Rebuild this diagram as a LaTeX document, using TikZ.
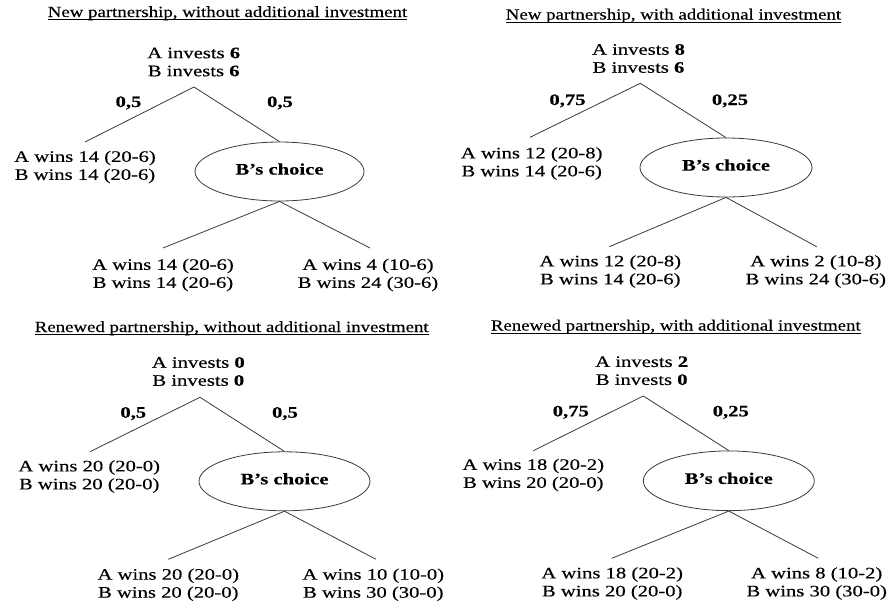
\documentclass[tikz,border=0pt]{standalone}
\usepackage{fontspec}
\setmainfont[FakeStretch=1.29, FakeBold=0.35]{Liberation Serif}
\newfontfamily\titlefont[FakeStretch=1.215, FakeBold=0.25]{Liberation Serif}
\usetikzlibrary{shapes.geometric}
\definecolor{linegray}{HTML}{3A3A3A}
\tikzset{
  ttl/.style={font=\titlefont\fontsize{15.5}{18}\selectfont, inner sep=0, anchor=base},
  uline/.style={draw=black, line width=0.7pt},
  txt/.style={font=\fontsize{16}{18}\selectfont, align=center, inner sep=0},
  prob/.style={font=\bfseries\fontsize{16}{18}\selectfont, inner sep=0, anchor=base},
  choice/.style={ellipse, draw=linegray, line width=0.8pt, minimum width=170pt,
    minimum height=59pt, inner sep=0, font=\bfseries\fontsize{16}{18}\selectfont},
  branch/.style={draw=linegray, line width=0.8pt}
}
\begin{document}
\begin{tikzpicture}[x=1pt, y=-1pt]
\useasboundingbox (0,0) rectangle (892,608);
\fill[white] (0,0) rectangle (892,608);

% ---------- Panel 1 ----------
\node[ttl] (t1) at (227.5,17) {New partnership, without additional investment};
\draw[uline] ([yshift=-2.4pt]t1.base west) -- ([yshift=-2.4pt]t1.base east);
\node[txt] (i1) at (193.7,62) {A invests \textbf{6}\\B invests \textbf{6}};
\coordinate (a1) at (194,87);
\node[prob] (pl1) at (128.5,107) {0,5};
\node[prob] (pr1) at (280,107) {0,5};
\node[txt] (l1) at (85,167) {A wins 14 (20-6)\\B wins 14 (20-6)};
\coordinate (le1) at (85,142);
\node[choice, minimum width=169pt] (c1) at (279.5,171.5) {\raisebox{5pt}{B’s choice}};
\node[txt] (bl1) at (163,275) {A wins 14 (20-6)\\B wins 14 (20-6)};
\node[txt] (br1) at (368,275) {A wins 4 (10-6)\\B wins 24 (30-6)};
\coordinate (ble1) at (163,248);
\coordinate (bre1) at (370,248);
\draw[branch] (le1) -- (a1) -- (c1.north);
\draw[branch] (ble1) -- (c1.south) -- (bre1);

% ---------- Panel 2 ----------
\node[ttl] (t2) at (673.5,19.5) {New partnership, with additional investment};
\draw[uline] ([yshift=-2.4pt]t2.base west) -- ([yshift=-2.4pt]t2.base east);
\node[txt] (i2) at (638.5,58.5) {A invests \textbf{8}\\B invests \textbf{6}};
\coordinate (a2) at (640.3,83.3);
\node[prob] (pl2) at (567.5,105) {0,75};
\node[prob] (pr2) at (730,105) {0,25};
\node[txt] (l2) at (531.7,163.5) {A wins 12 (20-8)\\B wins 14 (20-6)};
\coordinate (le2) at (530,137.3);
\node[choice, minimum width=172pt] (c2) at (726,167.5) {\raisebox{5pt}{B’s choice}};
\node[txt] (bl2) at (610.3,271.5) {A wins 12 (20-8)\\B wins 14 (20-6)};
\node[txt] (br2) at (815.8,271.5) {A wins 2 (10-8)\\B wins 24 (30-6)};
\coordinate (ble2) at (609.3,246.7);
\coordinate (bre2) at (816.7,246.7);
\draw[branch] (le2) -- (a2) -- (c2.north);
\draw[branch] (ble2) -- (c2.south) -- (bre2);

% ---------- Panel 3 ----------
\node[ttl] (t3) at (231.7,332) {Renewed partnership, without additional investment};
\draw[uline] ([yshift=-2.4pt]t3.base west) -- ([yshift=-2.4pt]t3.base east);
\node[txt] (i3) at (198.3,371.5) {A invests \textbf{0}\\B invests \textbf{0}};
\coordinate (a3) at (200,397.3);
\node[prob] (pl3) at (133.3,417.7) {0,5};
\node[prob] (pr3) at (285,417.7) {0,5};
\node[txt] (l3) at (89.2,476.5) {A wins 20 (20-0)\\B wins 20 (20-0)};
\coordinate (le3) at (90,451.7);
\node[choice, minimum width=171pt] (c3) at (284.5,481.3) {\raisebox{5pt}{B’s choice}};
\node[txt] (bl3) at (168.3,584.8) {A wins 20 (20-0)\\B wins 20 (20-0)};
\node[txt] (br3) at (373.3,584.8) {A wins 10 (10-0)\\B wins 30 (30-0)};
\coordinate (ble3) at (168.3,559.3);
\coordinate (bre3) at (376,559.3);
\draw[branch] (le3) -- (a3) -- (c3.north);
\draw[branch] (ble3) -- (c3.south) -- (bre3);

% ---------- Panel 4 ----------
\node[ttl] (t4) at (675.8,330.5) {Renewed partnership, with additional investment};
\draw[uline] ([yshift=-2.4pt]t4.base west) -- ([yshift=-2.4pt]t4.base east);
\node[txt] (i4) at (641.7,370.7) {A invests \textbf{2}\\B invests \textbf{0}};
\coordinate (a4) at (643.3,396);
\node[prob] (pl4) at (570.8,416.4) {0,75};
\node[prob] (pr4) at (730.8,416.4) {0,25};
\node[txt] (l4) at (533.3,475) {A wins 18 (20-2)\\B wins 20 (20-0)};
\coordinate (le4) at (533.3,450.7);
\node[choice, minimum width=171pt, minimum height=59.7pt] (c4) at (728.8,480.8) {\raisebox{5pt}{B’s choice}};
\node[txt] (bl4) at (612.2,583.5) {A wins 18 (20-2)\\B wins 20 (20-0)};
\node[txt] (br4) at (816.7,583.5) {A wins 8 (10-2)\\B wins 30 (30-0)};
\coordinate (ble4) at (611.7,558.3);
\coordinate (bre4) at (818.3,558.3);
\draw[branch] (le4) -- (a4) -- (c4.north);
\draw[branch] (ble4) -- (c4.south) -- (bre4);
\end{tikzpicture}
\end{document}
